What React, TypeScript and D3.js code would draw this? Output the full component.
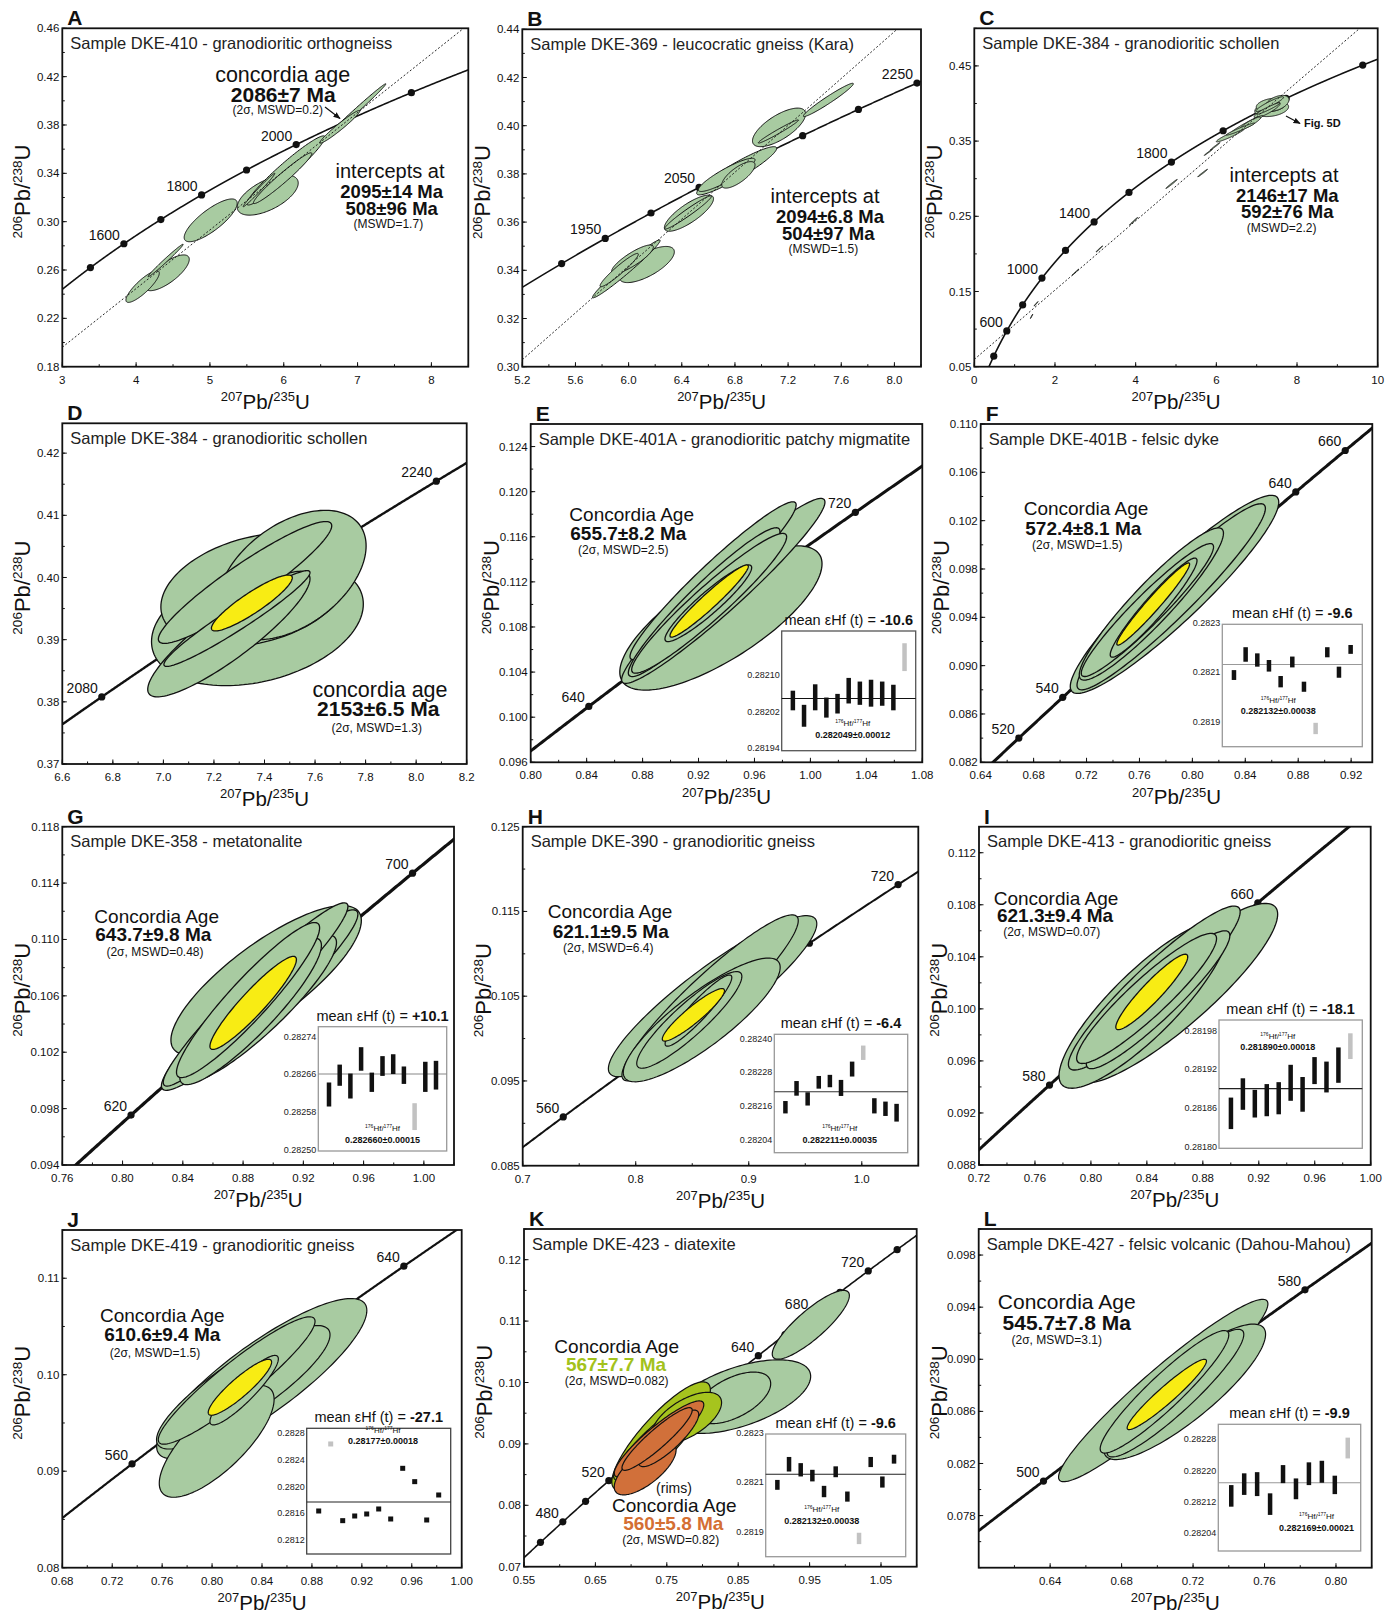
import React from "react";
import * as d3 from "d3";

const FONT = "'Liberation Sans', Arial, Helvetica, sans-serif";
const GREEN = "#a8cba1";
const YELLOW = "#f8ec14";
const OLIVE = "#a6c41e";
const ORANGE = "#d1703a";

// decay constants per Ma
const L238 = 1.55125e-4;
const L235 = 9.8485e-4;
const conc = (t: number) => [Math.expm1(L235 * t), Math.expm1(L238 * t)];

// ellipse: [207/235, 206/238, half-width x, half-width y, rho]
type Ell = [number, number, number, number, number];

// ---------- A
const aXTicks = [3, 4, 5, 6, 7, 8];
const aYTicks = [0.18, 0.22, 0.26, 0.3, 0.34, 0.38, 0.42, 0.46];
const aAges = [1500, 1600, 1700, 1800, 1900, 2000, 2200];
const aAgeLabels: [number, string][] = [[1600, "1600"], [1800, "1800"], [2000, "2000"]];
const aIntercepts = [508, 2095];
const aEll: Ell[] = [
  [4.088, 0.2463, 0.226, 0.0131, 0.85],
  [4.42, 0.2577, 0.3, 0.0148, 0.75],
  [4.4, 0.2679, 0.237, 0.0134, 0.99],
  [5.01, 0.3011, 0.359, 0.0177, 0.8],
  [5.783, 0.322, 0.413, 0.0166, 0.6],
  [5.665, 0.3262, 0.214, 0.0138, 0.99],
  [6.03, 0.3424, 0.53, 0.0286, 0.96],
  [5.985, 0.336, 0.395, 0.021, 0.97],
  [6.95, 0.39, 0.433, 0.0241, 0.995],
  [6.76, 0.3785, 0.27, 0.0135, 0.97],
];

// ---------- B
const bXTicks = [5.2, 5.6, 6.0, 6.4, 6.8, 7.2, 7.6, 8.0];
const bYTicks = [0.3, 0.32, 0.34, 0.36, 0.38, 0.4, 0.42, 0.44];
const bAges = [1900, 1950, 2000, 2050, 2100, 2150, 2200, 2250];
const bAgeLabels: [number, string][] = [[1950, "1950"], [2050, "2050"], [2250, "2250"]];
const bIntercepts = [504, 2094];
const bEll: Ell[] = [
  [5.983, 0.3406, 0.254, 0.012, 0.98],
  [6.029, 0.3446, 0.157, 0.0059, 0.85],
  [6.137, 0.3424, 0.207, 0.0075, 0.7],
  [5.929, 0.3401, 0.144, 0.0069, 0.95],
  [6.454, 0.3637, 0.185, 0.0075, 0.8],
  [6.447, 0.364, 0.176, 0.0069, 0.97],
  [6.813, 0.3813, 0.301, 0.01, 0.93],
  [6.738, 0.3796, 0.213, 0.0069, 0.9],
  [6.826, 0.3796, 0.125, 0.0055, 0.75],
  [7.132, 0.3993, 0.2, 0.008, 0.7],
  [7.127, 0.3976, 0.151, 0.0048, 0.98],
  [7.503, 0.4107, 0.188, 0.0069, 0.97],
];

// ---------- C
const cXTicks = [0, 2, 4, 6, 8, 10];
const cYTicks = [0.05, 0.15, 0.25, 0.35, 0.45];
const cAges = [400, 600, 800, 1000, 1200, 1400, 1600, 1800, 2000, 2200, 2400];
const cAgeLabels: [number, string][] = [[600, "600"], [1000, "1000"], [1400, "1400"], [1800, "1800"]];
const cIntercepts = [592, 2146];
const cEll: Ell[] = [
  [1.42, 0.117, 0.03, 0.003, 0.99],
  [1.53, 0.1336, 0.05, 0.003, 0.99],
  [2.51, 0.1757, 0.08, 0.004, 0.99],
  [3.1, 0.2066, 0.08, 0.004, 0.99],
  [3.95, 0.2434, 0.1, 0.005, 0.99],
  [4.89, 0.293, 0.14, 0.006, 0.99],
  [5.66, 0.3075, 0.12, 0.005, 0.99],
  [5.8, 0.335, 0.1, 0.004, 0.99],
  [5.97, 0.343, 0.12, 0.005, 0.99],
  [6.35, 0.358, 0.35, 0.009, 0.95],
  [6.6, 0.366, 0.35, 0.008, 0.97],
  [6.85, 0.374, 0.25, 0.008, 0.9],
  [6.75, 0.372, 0.4, 0.012, 0.97],
];

// ---------- D
const dXTicks = [6.6, 6.8, 7.0, 7.2, 7.4, 7.6, 7.8, 8.0, 8.2];
const dYTicks = [0.37, 0.38, 0.39, 0.4, 0.41, 0.42];
const dAges = [2080, 2240];
const dAgeLabels: [number, string][] = [[2080, "2080"], [2240, "2240"]];
const dEll: Ell[] = [
  [7.372, 0.3927, 0.419, 0.0101, 0.3],
  [7.364, 0.398, 0.374, 0.0091, 0.3],
  [7.508, 0.4004, 0.294, 0.0104, 0.45],
  [7.259, 0.3909, 0.321, 0.0101, 0.88],
  [7.323, 0.3992, 0.343, 0.0098, 0.93],
  [7.291, 0.3934, 0.289, 0.0077, 0.96],
];
const dYel: Ell[] = [[7.35, 0.3959, 0.16, 0.0045, 0.9]];

// ---------- E
const eXTicks = [0.8, 0.84, 0.88, 0.92, 0.96, 1.0, 1.04, 1.08];
const eYTicks = [0.096, 0.1, 0.104, 0.108, 0.112, 0.116, 0.12, 0.124];
const eAges = [620, 720];
const eAgeLabels: [number, string][] = [[620, "640"], [720, "720"]];
const eEll: Ell[] = [
  [0.936, 0.1088, 0.0723, 0.0064, 0.75],
  [0.9377, 0.1112, 0.0727, 0.0082, 0.96],
  [0.9304, 0.1121, 0.0594, 0.007, 0.96],
  [0.924, 0.1102, 0.0542, 0.0066, 0.95],
  [0.9276, 0.1101, 0.0554, 0.0062, 0.95],
  [0.927, 0.1101, 0.031, 0.0034, 0.93],
];
const eYel: Ell[] = [[0.9276, 0.1103, 0.028, 0.0032, 0.96]];
const eHf: [number, number][] = [
  [0.282023, 0.282066], [0.281987, 0.282035], [0.282023, 0.28208], [0.282007, 0.282051],
  [0.282016, 0.282059], [0.282038, 0.282094], [0.282035, 0.282086], [0.282031, 0.28209],
  [0.282033, 0.282086], [0.282023, 0.282079], [0.282109, 0.28217],
];
const eHfTicks = [0.28194, 0.28202, 0.2821];

// ---------- F
const fXTicks = [0.64, 0.68, 0.72, 0.76, 0.8, 0.84, 0.88, 0.92];
const fYTicks = [0.082, 0.086, 0.09, 0.094, 0.098, 0.102, 0.106, 0.11];
const fAges = [520, 540, 640, 660];
const fAgeLabels: [number, string][] = [[520, "520"], [540, "540"], [640, "640"], [660, "660"]];
const fEll: Ell[] = [
  [0.7865, 0.0959, 0.0788, 0.0082, 0.93],
  [0.784, 0.0957, 0.0712, 0.0077, 0.95],
  [0.769, 0.0951, 0.0545, 0.0063, 0.93],
  [0.766, 0.0946, 0.05, 0.0055, 0.95],
  [0.7707, 0.0948, 0.0328, 0.0041, 0.95],
];
const fYel: Ell[] = [[0.7704, 0.0951, 0.0275, 0.0034, 0.97]];
const fHf: [number, number][] = [
  [0.282069, 0.282109], [0.282143, 0.282202], [0.282123, 0.282177], [0.282103, 0.28215],
  [0.282039, 0.282085], [0.28212, 0.282164], [0.282021, 0.282062], [0.281849, 0.281895],
  [0.282161, 0.282202], [0.282078, 0.282123], [0.282175, 0.282211],
];
const fHfTicks = [0.2819, 0.2821, 0.2823];

// ---------- G
const gXTicks = [0.76, 0.8, 0.84, 0.88, 0.92, 0.96, 1.0];
const gYTicks = [0.094, 0.098, 0.102, 0.106, 0.11, 0.114, 0.118];
const gAges = [600, 700];
const gAgeLabels: [number, string][] = [[600, "620"], [700, "700"]];
const gEll: Ell[] = [
  [0.8953, 0.1071, 0.0632, 0.0053, 0.8],
  [0.891, 0.1057, 0.0652, 0.0064, 0.95],
  [0.8883, 0.1061, 0.0613, 0.0065, 0.96],
  [0.885, 0.1049, 0.047, 0.0052, 0.9],
  [0.891, 0.1051, 0.051, 0.0052, 0.9],
  [0.8833, 0.1057, 0.0475, 0.0055, 0.93],
];
const gYel: Ell[] = [[0.8867, 0.1055, 0.0287, 0.0033, 0.93]];
const gHf: [number, number][] = [
  [0.282591, 0.282642], [0.282635, 0.28268], [0.282608, 0.282661], [0.282667, 0.282717],
  [0.282622, 0.282663], [0.282656, 0.282698], [0.28266, 0.282702], [0.282639, 0.282676],
  [0.282541, 0.282598], [0.282622, 0.282686], [0.282627, 0.282688],
];
const gHfTicks = [0.2825, 0.28258, 0.28266, 0.28274];

// ---------- H
const hXTicks = [0.7, 0.8, 0.9, 1.0];
const hYTicks = [0.085, 0.095, 0.105, 0.115, 0.125];
const hAges = [560, 680, 720];
const hAgeLabels: [number, string][] = [[560, "560"], [720, "720"]];
const hEll: Ell[] = [
  [0.868, 0.105, 0.0922, 0.0095, 0.9],
  [0.8658, 0.1048, 0.078, 0.0098, 0.93],
  [0.8584, 0.1022, 0.0694, 0.0073, 0.85],
  [0.8474, 0.1022, 0.0465, 0.0057, 0.9],
  [0.8555, 0.1033, 0.0295, 0.0042, 0.93],
];
const hYel: Ell[] = [[0.851, 0.1028, 0.0275, 0.0031, 0.92]];
const hHf: [number, number][] = [
  [0.282134, 0.282178], [0.282197, 0.282249], [0.282162, 0.282209], [0.282222, 0.282267],
  [0.282227, 0.282271], [0.282196, 0.282253], [0.282265, 0.282318], [0.282324, 0.282375],
  [0.282134, 0.282188], [0.282125, 0.282176], [0.282105, 0.282168],
];
const hHfTicks = [0.28204, 0.28216, 0.28228, 0.2824];

// ---------- I
const iXTicks = [0.72, 0.76, 0.8, 0.84, 0.88, 0.92, 0.96, 1.0];
const iYTicks = [0.088, 0.092, 0.096, 0.1, 0.104, 0.108, 0.112];
const iAges = [580, 662];
const iAgeLabels: [number, string][] = [[580, "580"], [662, "660"]];
const iEll: Ell[] = [
  [0.861, 0.1012, 0.0725, 0.0069, 0.88],
  [0.8372, 0.1003, 0.06, 0.0064, 0.85],
  [0.8453, 0.1016, 0.0614, 0.0063, 0.93],
  [0.848, 0.1007, 0.0513, 0.0053, 0.93],
  [0.8398, 0.1008, 0.05, 0.005, 0.92],
];
const iYel: Ell[] = [[0.8435, 0.1013, 0.0257, 0.0029, 0.93]];
const iHf: [number, number][] = [
  [0.281827, 0.281876], [0.281857, 0.281906], [0.281845, 0.281888], [0.281847, 0.281897],
  [0.28185, 0.2819], [0.281871, 0.281927], [0.281854, 0.281908], [0.281897, 0.281939],
  [0.281884, 0.281932], [0.281899, 0.281954], [0.281936, 0.281976],
];
const iHfTicks = [0.2818, 0.28186, 0.28192, 0.28198];

// ---------- J
const jXTicks = [0.68, 0.72, 0.76, 0.8, 0.84, 0.88, 0.92, 0.96, 1.0];
const jYTicks = [0.08, 0.09, 0.1, 0.11];
const jAges = [560, 680];
const jAgeLabels: [number, string][] = [[560, "560"], [680, "640"]];
const jEll: Ell[] = [
  [0.8398, 0.0996, 0.0842, 0.0083, 0.85],
  [0.8037, 0.0931, 0.046, 0.0058, 0.75],
  [0.825, 0.0987, 0.0695, 0.0064, 0.85],
  [0.8197, 0.0994, 0.0628, 0.0066, 0.93],
  [0.8257, 0.0984, 0.0274, 0.0036, 0.9],
];
const jYel: Ell[] = [[0.8223, 0.0987, 0.0254, 0.0029, 0.9]];
const jHf: [number, number][] = [
  [0.2815975, 0.2816725], [0.2826025, 0.2826775], [0.2814525, 0.2815275], [0.2815225, 0.2815975],
  [0.2815525, 0.2816275], [0.2816275, 0.2817025], [0.2814775, 0.2815525], [0.2822375, 0.2823125],
  [0.2820375, 0.2821125], [0.2814625, 0.2815375], [0.2818375, 0.2819125],
];
const jHfTicks = [0.2812, 0.2816, 0.282, 0.2824, 0.2828];

// ---------- K
const kXTicks = [0.55, 0.65, 0.75, 0.85, 0.95, 1.05];
const kYTicks = [0.07, 0.08, 0.09, 0.1, 0.11, 0.12];
const kAges = [460, 480, 500, 520, 640, 660, 680, 700, 720, 740];
const kAgeLabels: [number, string][] = [[480, "480"], [520, "520"], [640, "640"], [680, "680"], [720, "720"]];
const kGreen: Ell[] = [
  [0.852, 0.0977, 0.0995, 0.006, 0.55],
  [0.8428, 0.0975, 0.0527, 0.0042, 0.55],
  [0.9517, 0.1094, 0.054, 0.0056, 0.85],
];
const kOlive: Ell[] = [
  [0.742, 0.0913, 0.069, 0.0088, 0.85],
  [0.778, 0.0942, 0.0487, 0.0042, 0.6],
  [0.7352, 0.0906, 0.0597, 0.0065, 0.9],
];
const kOrange: Ell[] = [
  [0.7391, 0.0908, 0.0627, 0.0062, 0.9],
  [0.7364, 0.0908, 0.0492, 0.0051, 0.92],
  [0.7197, 0.086, 0.0433, 0.0043, 0.7],
  [0.7527, 0.0909, 0.042, 0.0046, 0.85],
];
const kHf = fHf;

// ---------- L
const lXTicks = [0.64, 0.68, 0.72, 0.76, 0.8];
const lYTicks = [0.078, 0.082, 0.086, 0.09, 0.094, 0.098];
const lAges = [500, 587];
const lAgeLabels: [number, string][] = [[500, "500"], [587, "580"]];
const lEll: Ell[] = [
  [0.7033, 0.0876, 0.0586, 0.007, 0.95],
  [0.7153, 0.0875, 0.0453, 0.0052, 0.85],
  [0.704, 0.0875, 0.036, 0.0047, 0.93],
  [0.7101, 0.0874, 0.0383, 0.0049, 0.92],
];
const lYel: Ell[] = [[0.7053, 0.0873, 0.0222, 0.0027, 0.95]];
const lHf: [number, number][] = [
  [0.282108, 0.282163], [0.282138, 0.282193], [0.282135, 0.282196], [0.282087, 0.282142],
  [0.282168, 0.282214], [0.282127, 0.28218], [0.282163, 0.282221], [0.282169, 0.282225],
  [0.28214, 0.282187], [0.282231, 0.282284],
];
const lHfTicks = [0.28204, 0.28212, 0.2822, 0.28228];

type Txt = { t: string; x: number; y: number; s: number; b?: boolean; c?: string; a?: string };
const T = (t: string, x: number, y: number, s: number, b = false, c = "#111", a = "middle"): Txt => ({ t, x, y, s, b, c, a });

const insets: Record<string, any> = {
  E: { box: [781.7, 631, 915.7, 750.7], dom: [0.2819345, 0.2821968], ticks: eHfTicks, dec: 5, mean: 0.282049, mc: "#111", bc: "#555", eps: "-10.6", hf: "0.282049±0.00012", lab: [0.53, 0.89], bw: 4.5, bars: eHf, ex: 10 },
  F: { box: [1222.3, 624.3, 1362.3, 746.7], dom: [0.281798, 0.282295], ticks: fHfTicks, dec: 4, mean: 0.282132, mc: "#999", bc: "#999", eps: "-9.6", hf: "0.282132±0.00038", lab: [0.4, 0.733], bw: 4.5, bars: fHf, ex: 7 },
  G: { box: [318.3, 1026.7, 446.7, 1151], dom: [0.2824965, 0.2827605], ticks: gHfTicks, dec: 5, mean: 0.28266, mc: "#888", bc: "#999", eps: "+10.1", hf: "0.282660±0.00015", lab: [0.5, 0.933], bw: 4.5, bars: gHf, ex: 8 },
  H: { box: [774.3, 1034.3, 907.7, 1152.7], dom: [0.2819945, 0.282415], ticks: hHfTicks, dec: 5, mean: 0.282211, mc: "#333", bc: "#999", eps: "-6.4", hf: "0.282211±0.00035", lab: [0.49, 0.915], bw: 4.5, bars: hHf, ex: 7 },
  I: { box: [1219, 1020, 1362.3, 1148.3], dom: [0.2817971, 0.2819967], ticks: iHfTicks, dec: 5, mean: 0.28189, mc: "#222", bc: "#999", eps: "-18.1", hf: "0.281890±0.00018", lab: [0.41, 0.234], bw: 4.5, bars: iHf, ex: 10 },
  J: { box: [306.7, 1428.3, 450.7, 1554], dom: [0.28099, 0.282875], ticks: jHfTicks, dec: 4, mean: 0.28177, mc: "#222", bc: "#444", eps: "-27.1", hf: "0.28177±0.00018", lab: [0.53, 0.125], bw: 5, bars: jHf, ex: 1 },
  K: { box: [765.7, 1434, 905.7, 1556.7], dom: [0.281798, 0.282295], ticks: fHfTicks, dec: 4, mean: 0.282132, mc: "#222", bc: "#999", eps: "-9.6", hf: "0.282132±0.00038", lab: [0.4, 0.73], bw: 4.5, bars: kHf, ex: 7 },
  L: { box: [1218.3, 1424.3, 1360.7, 1551], dom: [0.281995, 0.282318], ticks: lHfTicks, dec: 5, mean: 0.282169, mc: "#999", bc: "#999", eps: "-9.9", hf: "0.282169±0.00021", lab: [0.69, 0.84], bw: 4.5, bars: lHf, ex: 9 },
};

const OLIVE_TXT = "#a3c21c";
const ORANGE_TXT = "#d46f33";

const panels: any[] = [
  { letter: "A", title: "Sample DKE-410 - granodioritic orthogneiss", frame: [62.3, 28.3, 468.3, 366.7], xd: [3, 8.5], yd: [0.18, 0.46], xt: aXTicks, yt: aYTicks, xm: 0.5, ym: 0.02, xf: "d", yf: ".2f", ages: aAges, labels: aAgeLabels, cw: 1.6, ew: 1, disc: aIntercepts, groups: [[aEll, GREEN]],
    texts: [T("concordia age", 282.7, 81.7, 21.5), T("2086±7 Ma", 283.3, 101.7, 21, true), T("(2σ, MSWD=0.2)", 277.7, 114.3, 12), T("intercepts at", 390, 178.3, 20), T("2095±14 Ma", 391.7, 198.3, 18.5, true), T("508±96 Ma", 391.7, 215, 18.5, true), T("(MSWD=1.7)", 388.3, 228.3, 12)],
    arrows: [[325, 107, 340, 118.5]] },
  { letter: "B", title: "Sample DKE-369 - leucocratic gneiss (Kara)", frame: [522.3, 29.3, 921, 366.7], xd: [5.2, 8.2], yd: [0.3, 0.44], xt: bXTicks, yt: bYTicks, xm: 0.2, ym: 0.01, xf: ".1f", yf: ".2f", ages: bAges, labels: bAgeLabels, cw: 1.6, ew: 1, disc: bIntercepts, groups: [[bEll, GREEN]],
    texts: [T("intercepts at", 825, 203.3, 20), T("2094±6.8 Ma", 830, 223.3, 18.5, true), T("504±97 Ma", 828.3, 240, 18.5, true), T("(MSWD=1.5)", 823.3, 253.3, 12)] },
  { letter: "C", title: "Sample DKE-384 - granodioritic schollen", frame: [974.3, 28.3, 1377.7, 366.7], xd: [0, 10], yd: [0.05, 0.5], xt: cXTicks, yt: cYTicks, xm: 1, ym: 0.05, xf: "d", yf: ".2f", ages: cAges, labels: cAgeLabels, cw: 1.6, ew: 0.9, disc: cIntercepts, groups: [[[...dEll, ...cEll], GREEN]],
    texts: [T("intercepts at", 1284, 181.7, 20), T("2146±17 Ma", 1287.3, 201.7, 18.5, true), T("592±76 Ma", 1287.3, 218.3, 18.5, true), T("(MSWD=2.2)", 1281.7, 231.7, 12), T("Fig. 5D", 1304, 127, 11, true, "#111", "start")],
    arrows: [[1286, 116, 1300, 123.5]] },
  { letter: "D", title: "Sample DKE-384 - granodioritic schollen", frame: [62.3, 423.3, 466.7, 764], xd: [6.6, 8.2], yd: [0.37, 0.4248], xt: dXTicks, yt: dYTicks, xm: 0.1, ym: 0.005, xf: ".1f", yf: ".2f", ages: dAges, labels: dAgeLabels, cw: 2.4, ew: 1.3, groups: [[dEll, GREEN], [dYel, YELLOW]],
    texts: [T("concordia age", 380, 696.7, 21.5), T("2153±6.5 Ma", 378.3, 716, 21, true), T("(2σ, MSWD=1.3)", 376.7, 731.7, 12)] },
  { letter: "E", title: "Sample DKE-401A - granodioritic patchy migmatite", frame: [530.7, 424, 922.3, 762.3], xd: [0.8, 1.08], yd: [0.096, 0.126], xt: eXTicks, yt: eYTicks, xm: 0.02, ym: 0.002, xf: ".2f", yf: ".3f", ages: eAges, labels: eAgeLabels, cw: 3, ew: 1.3, groups: [[eEll, GREEN], [eYel, YELLOW]],
    texts: [T("Concordia Age", 631.7, 520.7, 19), T("655.7±8.2 Ma", 628.3, 540, 19, true), T("(2σ, MSWD=2.5)", 623.3, 554.3, 12)], inset: insets.E },
  { letter: "F", title: "Sample DKE-401B - felsic dyke", frame: [980.7, 424, 1372.3, 762.3], xd: [0.64, 0.936], yd: [0.082, 0.11], xt: fXTicks, yt: fYTicks, xm: 0.02, ym: 0.002, xf: ".2f", yf: ".3f", ages: fAges, labels: fAgeLabels, cw: 3, ew: 1.3, groups: [[fEll, GREEN], [fYel, YELLOW]],
    texts: [T("Concordia Age", 1086, 515, 19), T("572.4±8.1 Ma", 1083.3, 535, 19, true), T("(2σ, MSWD=1.5)", 1077.3, 549, 12)], inset: insets.F },
  { letter: "G", title: "Sample DKE-358 - metatonalite", frame: [62.3, 826.7, 454, 1165], xd: [0.76, 1.02], yd: [0.094, 0.118], xt: gXTicks, yt: gYTicks, xm: 0.02, ym: 0.002, xf: ".2f", yf: ".3f", ages: gAges, labels: gAgeLabels, cw: 3.2, ew: 1.3, groups: [[gEll, GREEN], [gYel, YELLOW]],
    texts: [T("Concordia Age", 156.7, 923.3, 19), T("643.7±9.8 Ma", 153.3, 940.7, 19, true), T("(2σ, MSWD=0.48)", 155, 956, 12)], inset: insets.G },
  { letter: "H", title: "Sample DKE-390 - granodioritic gneiss", frame: [522.7, 826.7, 918.3, 1165.7], xd: [0.7, 1.05], yd: [0.085, 0.125], xt: hXTicks, yt: hYTicks, xm: 0.05, ym: 0.005, xf: ".1f", yf: ".3f", ages: hAges, labels: hAgeLabels, cw: 2, ew: 1.2, groups: [[hEll, GREEN], [hYel, YELLOW]],
    texts: [T("Concordia Age", 610, 918.3, 19), T("621.1±9.5 Ma", 610.7, 937.7, 19, true), T("(2σ, MSWD=6.4)", 608.3, 951.7, 12)], inset: insets.H },
  { letter: "I", title: "Sample DKE-413 - granodioritic gneiss", frame: [979, 826.7, 1370.7, 1165], xd: [0.72, 1.0], yd: [0.088, 0.114], xt: iXTicks, yt: iYTicks, xm: 0.02, ym: 0.002, xf: ".2f", yf: ".3f", ages: iAges, labels: iAgeLabels, cw: 3, ew: 1.3, groups: [[iEll, GREEN], [iYel, YELLOW]],
    texts: [T("Concordia Age", 1056, 905, 19), T("621.3±9.4 Ma", 1055, 922.3, 19, true), T("(2σ, MSWD=0.07)", 1051.7, 935.7, 12)], inset: insets.I },
  { letter: "J", title: "Sample DKE-419 - granodioritic gneiss", frame: [62.3, 1230, 461.7, 1567.7], xd: [0.68, 1.0], yd: [0.08, 0.115], xt: jXTicks, yt: jYTicks, xm: 0.02, ym: 0.005, xf: ".2f", yf: ".2f", ages: jAges, labels: jAgeLabels, cw: 2.2, ew: 1.2, groups: [[jEll, GREEN], [jYel, YELLOW]],
    texts: [T("Concordia Age", 162.3, 1321.7, 19), T("610.6±9.4 Ma", 162.3, 1341, 19, true), T("(2σ, MSWD=1.5)", 155, 1356.7, 12)], inset: insets.J },
  { letter: "K", title: "Sample DKE-423 - diatexite", frame: [524, 1229, 916.7, 1566.7], xd: [0.55, 1.1], yd: [0.07, 0.125], xt: kXTicks, yt: kYTicks, xm: 0.05, ym: 0.005, xf: ".2f", yf: ".2f", ages: kAges, labels: kAgeLabels, cw: 1.6, ew: 1.2, groups: [[kGreen, GREEN], [kOlive, OLIVE], [kOrange, ORANGE]],
    texts: [T("Concordia Age", 616.7, 1352.7, 19), T("567±7.7 Ma", 616, 1370.7, 19, true, OLIVE_TXT), T("(2σ, MSWD=0.082)", 616.7, 1385, 12), T("(rims)", 674, 1492.7, 14), T("Concordia Age", 674.3, 1511.7, 19), T("560±5.8 Ma", 673.3, 1530, 19, true, ORANGE_TXT), T("(2σ, MSWD=0.82)", 670.7, 1544.3, 12)], inset: insets.K },
  { letter: "L", title: "Sample DKE-427 - felsic volcanic (Dahou-Mahou)", frame: [978.7, 1229, 1371.7, 1567.7], xd: [0.6, 0.82], yd: [0.074, 0.1], xt: lXTicks, yt: lYTicks, xm: 0.02, ym: 0.002, xf: ".2f", yf: ".3f", ages: lAges, labels: lAgeLabels, cw: 2.8, ew: 1.2, groups: [[lEll, GREEN], [lYel, YELLOW]],
    texts: [T("Concordia Age", 1066.7, 1309.3, 21), T("545.7±7.8 Ma", 1066.7, 1330, 21, true), T("(2σ, MSWD=3.1)", 1056.7, 1344.3, 12)], inset: insets.L },
];

const ellPts = (e: Ell) => {
  const [cx, cy, sx, sy, r] = e;
  const q = Math.sqrt(1 - r * r);
  return d3.range(0, 2 * Math.PI, Math.PI / 72).map(a => [cx + sx * Math.cos(a), cy + sy * (r * Math.cos(a) + q * Math.sin(a))]);
};
const ellArea = (e: Ell) => e[2] * e[3] * Math.sqrt(1 - e[4] * e[4]);

function IsoLabel({ x, y, top, bot, rotate, sz, sup }: any) {
  const sh = sz * 0.37;
  return (
    <text x={x} y={y} textAnchor="middle" fontFamily={FONT} fontSize={sz} fill="#111"
      transform={rotate ? `rotate(-90 ${x} ${y})` : undefined}>
      <tspan fontSize={sup} dy={-sh}>{top}</tspan>
      <tspan dy={sh}>Pb/</tspan>
      <tspan fontSize={sup} dy={-sh}>{bot}</tspan>
      <tspan dy={sh}>U</tspan>
    </text>
  );
}

function Inset({ s }: any) {
  const [x0, y0, x1, y1] = s.box;
  const x = d3.scaleLinear().domain([0, s.bars.length + 1]).range([x0, x1]);
  const y = d3.scaleLinear().domain(s.dom).range([y1, y0]);
  const fmt = d3.format(`.${s.dec}f`);
  const lx = x0 + s.lab[0] * (x1 - x0);
  const ly = y0 + s.lab[1] * (y1 - y0);
  return (
    <g fontFamily={FONT} fill="#111">
      <rect x={x0} y={y0} width={x1 - x0} height={y1 - y0} fill="#fff" stroke={s.bc} strokeWidth={1.3} />
      <line x1={x0} x2={x1} y1={y(s.mean)} y2={y(s.mean)} stroke={s.mc} strokeWidth={1.1} />
      {s.bars.map(([lo, hi]: number[], i: number) => (
        <rect key={i} x={x(i + 1) - s.bw / 2} width={s.bw} y={y(hi)} height={y(lo) - y(hi)}
          fill={i === s.ex ? "#c2c2c2" : "#111"} />
      ))}
      {s.ticks.map((t: number) => (
        <text key={t} x={x0 - 2} y={y(t)} dy="0.35em" textAnchor="end" fontSize={9} fill="#222">{fmt(t)}</text>
      ))}
      <text x={(x0 + x1) / 2} y={y0 - 6} textAnchor="middle" fontSize={14.5}>
        mean εHf (t) = <tspan fontWeight="bold">{s.eps}</tspan>
      </text>
      <text x={lx} y={ly - 11.5} textAnchor="middle" fontSize={8}>
        <tspan fontSize={5} dy={-3}>176</tspan>
        <tspan dy={3}>Hf/</tspan>
        <tspan fontSize={5} dy={-3}>177</tspan>
        <tspan dy={3}>Hf</tspan>
      </text>
      <text x={lx} y={ly} textAnchor="middle" fontSize={9} fontWeight="bold">{s.hf}</text>
    </g>
  );
}

function Panel({ p }: any) {
  const [x0, y0, x1, y1] = p.frame;
  const x = d3.scaleLinear().domain(p.xd).range([x0, x1]);
  const y = d3.scaleLinear().domain(p.yd).range([y1, y0]);
  const line = d3.line<number[]>().x(d => x(d[0])).y(d => y(d[1]));
  const closed = d3.line<number[]>().x(d => x(d[0])).y(d => y(d[1])).curve(d3.curveLinearClosed);
  const pad = (p.xd[1] - p.xd[0]) * 0.2;
  const curve = d3.range(0, 4000, 0.5).map(conc).filter(d => d[0] >= p.xd[0] - pad && d[0] <= p.xd[1] + pad);
  const clip = `url(#clip${p.letter})`;
  const xFmt = d3.format(p.xf);
  const yFmt = d3.format(p.yf);
  const xMinor = d3.range(p.xd[0], p.xd[1] + 1e-9, p.xm);
  const yMinor = d3.range(p.yd[0], p.yd[1] + 1e-9, p.ym);

  let disc: number[][] | null = null;
  if (p.disc) {
    const [xa, ya] = conc(p.disc[0]);
    const [xb, yb] = conc(p.disc[1]);
    const m = (yb - ya) / (xb - xa);
    disc = [[p.xd[0], ya + m * (p.xd[0] - xa)], [p.xd[1], ya + m * (p.xd[1] - xa)]];
  }

  return (
    <g>
      <g clipPath={clip}>
        <path d={line(curve) || ""} fill="none" stroke="#111" strokeWidth={p.cw} />
        {p.ages.map((a: number) => {
          const [cx, cy] = conc(a);
          return <circle key={a} cx={x(cx)} cy={y(cy)} r={3.6} fill="#111" />;
        })}
        {p.groups.map(([data, fill]: [Ell[], string], gi: number) =>
          [...data].sort((a, b) => ellArea(b) - ellArea(a)).map((e, i) => (
            <path key={`${gi}-${i}`} d={closed(ellPts(e)) || ""} fill={fill} stroke="#111" strokeWidth={p.ew} />
          ))
        )}
        {disc && <path d={line(disc) || ""} fill="none" stroke="#111" strokeWidth={0.9} strokeDasharray="2,2" />}
      </g>
      {p.labels.map(([a, txt]: [number, string]) => {
        const [cx, cy] = conc(a);
        return (
          <text key={a} x={x(cx) - 4} y={y(cy) - 4} textAnchor="end" fontFamily={FONT} fontSize={14} fill="#111">{txt}</text>
        );
      })}
      <rect x={x0} y={y0} width={x1 - x0} height={y1 - y0} fill="none" stroke="#111" strokeWidth={1.8} />
      {xMinor.map((v: number, i: number) => (
        <line key={"xm" + i} x1={x(v)} x2={x(v)} y1={y1} y2={y1 - 2.5} stroke="#111" strokeWidth={1} />
      ))}
      {yMinor.map((v: number, i: number) => (
        <line key={"ym" + i} x1={x0} x2={x0 + 2.5} y1={y(v)} y2={y(v)} stroke="#111" strokeWidth={1} />
      ))}
      {p.xt.map((v: number) => (
        <g key={"xt" + v}>
          <line x1={x(v)} x2={x(v)} y1={y1} y2={y1 - 4.5} stroke="#111" strokeWidth={1} />
          <text x={x(v)} y={y1 + 17} textAnchor="middle" fontFamily={FONT} fontSize={11.5} fill="#111">{xFmt(v)}</text>
        </g>
      ))}
      {p.yt.map((v: number) => (
        <g key={"yt" + v}>
          <line x1={x0} x2={x0 + 4.5} y1={y(v)} y2={y(v)} stroke="#111" strokeWidth={1} />
          <text x={x0 - 3} y={y(v)} dy="0.35em" textAnchor="end" fontFamily={FONT} fontSize={11.5} fill="#111">{yFmt(v)}</text>
        </g>
      ))}
      <text x={x0 + 5} y={y0 - 3} fontFamily={FONT} fontSize={21} fontWeight="bold" fill="#111">{p.letter}</text>
      <text x={x0 + 8} y={y0 + 20.5} fontFamily={FONT} fontSize={16.5} fill="#222">{p.title}</text>
      <IsoLabel x={(x0 + x1) / 2} y={y1 + 42} top="207" bot="235" sz={20.5} sup={13} />
      <IsoLabel x={x0 - 32} y={(y0 + y1) / 2 - 6} top="206" bot="238" sz={22} sup={13.5} rotate />
      {p.texts.map((t: Txt, i: number) => (
        <text key={"t" + i} x={t.x} y={t.y} textAnchor={t.a} fontFamily={FONT} fontSize={t.s}
          fontWeight={t.b ? "bold" : "normal"} fill={t.c}>{t.t}</text>
      ))}
      {(p.arrows || []).map((a: number[], i: number) => (
        <line key={"a" + i} x1={a[0]} y1={a[1]} x2={a[2]} y2={a[3]} stroke="#111" strokeWidth={1.2} markerEnd="url(#arr)" />
      ))}
      {p.inset && <Inset s={p.inset} />}
    </g>
  );
}

export default function App() {
  return (
    <div style={{ position: "absolute", left: 0, top: 0 }}>
      <svg width={1399} height={1614} viewBox="0 0 1399 1614" style={{ display: "block", background: "#fff" }}>
        <defs>
          <marker id="arr" viewBox="0 0 10 10" refX="9" refY="5" markerWidth="6" markerHeight="6" orient="auto">
            <path d="M0,1 L10,5 L0,9 z" fill="#111" />
          </marker>
          {panels.map(p => (
            <clipPath key={p.letter} id={"clip" + p.letter}>
              <rect x={p.frame[0]} y={p.frame[1]} width={p.frame[2] - p.frame[0]} height={p.frame[3] - p.frame[1]} />
            </clipPath>
          ))}
        </defs>
        <rect width={1399} height={1614} fill="#fff" />
        {panels.map(p => <Panel key={p.letter} p={p} />)}
      </svg>
    </div>
  );
}
